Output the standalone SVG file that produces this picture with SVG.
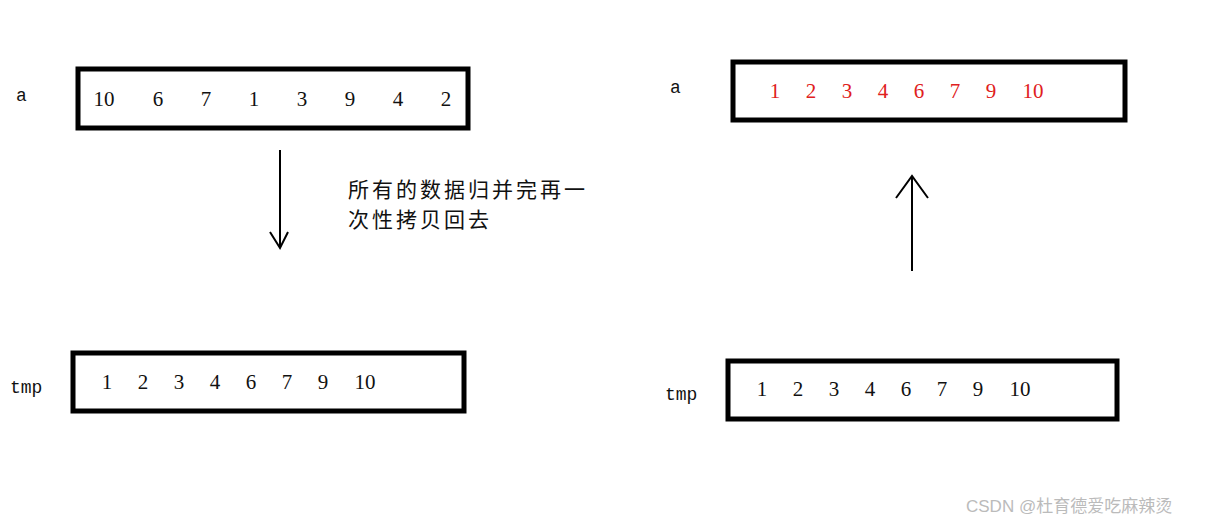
<svg xmlns="http://www.w3.org/2000/svg" width="1212" height="529" viewBox="0 0 1212 529">
<style>
.box{fill:#fff;stroke:#000;stroke-width:5}
.n{font-family:"Liberation Serif",serif;font-size:21px;fill:#111;text-anchor:middle}
.r{fill:#e02020}
.lbl{font-family:"Liberation Mono",monospace;font-size:18px;fill:#111}
.cn{font-family:"Noto Sans CJK SC",sans-serif;font-size:21px;letter-spacing:3px;fill:#111}
.ln{stroke:#000;stroke-width:2;fill:none}
.wm{font-family:"Liberation Sans","Noto Sans CJK SC",sans-serif;font-size:17px;fill:#bbb}
</style>
<rect width="1212" height="529" fill="#fff"/>
<g id="a-left">
<text class="lbl" x="16" y="101">a</text>
<rect class="box" x="78" y="69" width="390" height="59"/>
<text class="n" x="104" y="106">10</text><text class="n" x="158" y="106">6</text><text class="n" x="206" y="106">7</text><text class="n" x="254" y="106">1</text><text class="n" x="302" y="106">3</text><text class="n" x="350" y="106">9</text><text class="n" x="398" y="106">4</text><text class="n" x="446" y="106">2</text>
</g>
<g id="tmp-left">
<text class="lbl" x="10" y="393">tmp</text>
<rect class="box" x="73" y="353" width="391" height="58"/>
<text class="n" x="107" y="389">1</text><text class="n" x="143" y="389">2</text><text class="n" x="179" y="389">3</text><text class="n" x="215" y="389">4</text><text class="n" x="251" y="389">6</text><text class="n" x="287" y="389">7</text><text class="n" x="323" y="389">9</text><text class="n" x="365" y="389">10</text>
</g>
<g id="a-right">
<text class="lbl" x="670" y="93">a</text>
<rect class="box" x="733" y="62" width="392" height="58"/>
<text class="n r" x="775" y="98">1</text><text class="n r" x="811" y="98">2</text><text class="n r" x="847" y="98">3</text><text class="n r" x="883" y="98">4</text><text class="n r" x="919" y="98">6</text><text class="n r" x="955" y="98">7</text><text class="n r" x="991" y="98">9</text><text class="n r" x="1033" y="98">10</text>
</g>
<g id="tmp-right">
<text class="lbl" x="665" y="400">tmp</text>
<rect class="box" x="728" y="361" width="389" height="58"/>
<text class="n" x="762" y="396">1</text><text class="n" x="798" y="396">2</text><text class="n" x="834" y="396">3</text><text class="n" x="870" y="396">4</text><text class="n" x="906" y="396">6</text><text class="n" x="942" y="396">7</text><text class="n" x="978" y="396">9</text><text class="n" x="1020" y="396">10</text>
</g>
<g id="note">
<text class="cn" x="348" y="197">所有的数据归并完再一</text>
<text class="cn" x="348" y="227">次性拷贝回去</text>
</g>
<g id="connectors">
<path class="ln" d="M280 150 V248 M270 232 L280 248 L288 232"/>
<path class="ln" d="M912 271 V176 M896 198 L912 176 L928 198"/>
</g>
<text class="wm" x="966" y="512">CSDN @杜育德爱吃麻辣烫</text>
</svg>
